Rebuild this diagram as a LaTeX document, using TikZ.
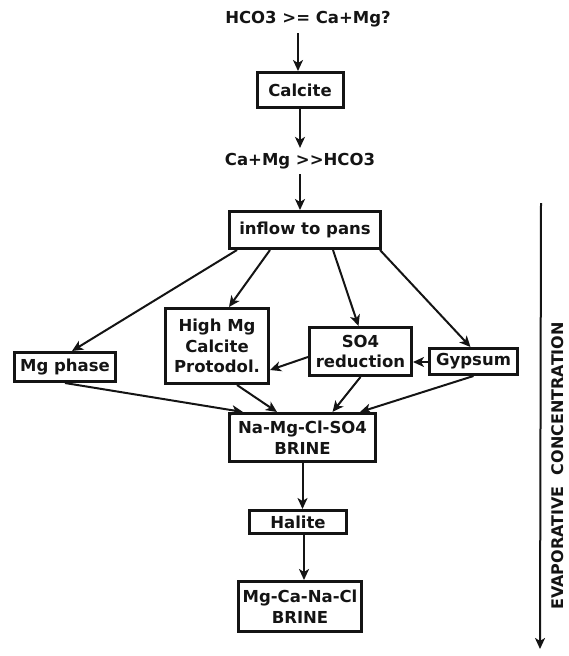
\documentclass[tikz,border=0pt]{standalone}
\usepackage{fontspec}
\setmainfont{DejaVu Sans}
\usetikzlibrary{arrows.meta,calc}
\definecolor{EVInk}{HTML}{141414}
\newcommand{\evfont}{\fontsize{16.5}{20.5}\selectfont\bfseries}

\begin{document}
\begin{tikzpicture}[x=1pt,y=-1pt,
  box/.style={draw=EVInk,line width=3pt,align=center,inner sep=0pt,font=\evfont,text=EVInk},
  lbl/.style={inner sep=0pt,font=\evfont,text=EVInk},
  flow/.style={draw=EVInk,line width=2pt,-{Stealth[length=11pt,width=10pt,inset=3pt]}}]
\path[use as bounding box] (0,0) rectangle (569,656);

\node[lbl] (hco) at (308,19) {HCO3 >= Ca+Mg?};
\node[box,minimum width=86pt,minimum height=35pt] (calcite) at (300,90) {Calcite};
\node[lbl] (camg) at (300,161) {Ca+Mg >{}>HCO3};
\node[box,minimum width=151pt,minimum height=37pt] (inflow) at (305,230) {inflow to pans};
\node[box,minimum width=101pt,minimum height=29pt] (mgphase) at (65,367) {Mg phase};
\node[box,minimum width=103pt,minimum height=75pt] (highmg) at (217,346) {High Mg\\Calcite\\Protodol.};
\node[box,minimum width=102pt,minimum height=48pt] (sofour) at (360.5,351.5) {SO4\\reduction};
\node[box,minimum width=88pt,minimum height=26pt] (gypsum) at (473.5,361.5) {Gypsum};
\node[box,minimum width=146pt,minimum height=48pt] (brineone) at (302.5,437.5) {Na-Mg-Cl-SO4\\BRINE};
\node[box,minimum width=97pt,minimum height=23pt] (halite) at (298,522) {Halite};
\node[box,minimum width=123pt,minimum height=50pt] (brinetwo) at (300,606.5) {Mg-Ca-Na-Cl\\BRINE};

\draw[flow] ($(hco.south -| calcite.north)+(-2,6)$) -- ($(calcite.north)+(-2,0)$);
\draw[flow] (calcite.south) -- ($(camg.north)+(0,-5)$);
\draw[flow] ($(camg.south)+(0,5)$) -- (camg.south |- inflow.north);
\draw[flow] ($(inflow.south west)+(9,0)$) -- ($(mgphase.north)+(7,0)$);
\draw[flow] ($(inflow.south west)+(42,0)$) -- ($(highmg.north)+(12,0)$);
\draw[flow] ($(inflow.south)+(28,0)$) -- ($(sofour.north)+(-2,0)$);
\draw[flow] ($(inflow.south east)+(-2,0)$) -- ($(gypsum.north)+(-3,0)$);
\draw[flow] ($(gypsum.west)+(0,0.5)$) -- ($(gypsum.west -| sofour.east)+(0,0.5)$);
\draw[flow] ($(sofour.west)+(0,5.5)$) -- ($(highmg.east)+(0,24)$);
\draw[flow] (mgphase.south) -- ($(brineone.north west)+(15,0)$);
\draw[flow] ($(highmg.south east)+(-33,0)$) -- ($(brineone.north west)+(49,0)$);
\draw[flow] (sofour.south) -- ($(brineone.north)+(30,0)$);
\draw[flow] (gypsum.south) -- ($(brineone.north east)+(-17,0)$);
\draw[flow] (brineone.south) -- (brineone.south |- halite.north);
\draw[flow] ($(halite.south)+(6,0)$) -- ($(brinetwo.north)+(4,0)$);

\coordinate (evtop) at (541,203);
\coordinate (evbot) at (540,649);
\draw[flow] (evtop) -- (evbot);
\node[lbl,rotate=90,font=\fontsize{16}{19}\selectfont\bfseries] (evap) at (558,466) {EVAPORATIVE\ \ CONCENTRATION};
\end{tikzpicture}
\end{document}
